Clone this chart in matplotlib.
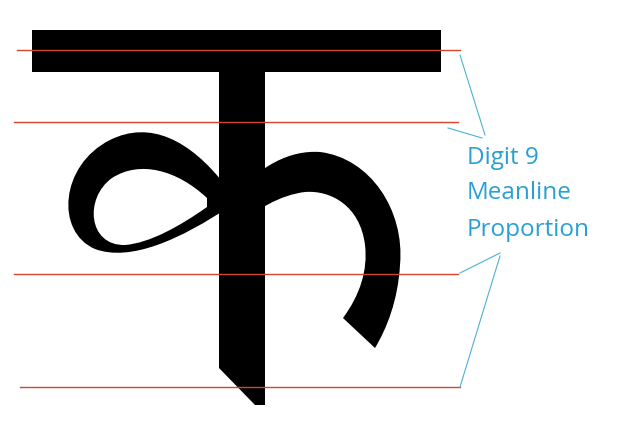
import matplotlib
matplotlib.use("Agg")
import matplotlib.pyplot as plt
from matplotlib.path import Path
from matplotlib.patches import PathPatch, Polygon

# guide lines (pixel y, x start, x end)
guide_y = [50, 122, 274, 387]
guide_x0 = [17, 14, 14, 20]
guide_x1 = [460, 458, 458, 460]
labels = ["Digit 9", "Meanline", "Proportion"]
label_y = [158, 193, 230]

M, C, L, Z = Path.MOVETO, Path.CURVE4, Path.LINETO, Path.CLOSEPOLY

fig = plt.figure(figsize=(6.27, 4.22), dpi=100)
ax = fig.add_axes([0, 0, 1, 1])
ax.set_xlim(0, 627)
ax.set_ylim(422, 0)
ax.axis("off")

# left loop: outer contour, then the hole drawn the other way round
outer = [(225, 185), (190, 140), (150, 120), (110, 140),
         (60, 165), (55, 232), (95, 249),
         (130, 262), (180, 240), (232, 205)]
hole = [(207, 198), (177, 170), (140, 160), (112, 178),
        (84, 198), (88, 246), (125, 245),
        (150, 243), (180, 226), (207, 207)]
hole = hole[::-1]
left_v = outer + [outer[0]] + hole + [hole[0]]
left_c = [M] + [C] * 9 + [Z] + [M] + [C] * 9 + [Z]
ax.add_patch(PathPatch(Path(left_v, left_c), fc="black", ec="none"))

# right arm
right_v = [(230, 200), (260, 165), (290, 150), (320, 152),
           (370, 158), (405, 210), (400, 265),
           (398, 300), (387, 328), (375, 348),
           (343, 318),
           (360, 295), (368, 270), (365, 245),
           (360, 205), (330, 190), (305, 192),
           (280, 195), (255, 210), (240, 225), (230, 200)]
right_c = [M] + [C] * 9 + [L] + [C] * 9 + [Z]
ax.add_patch(PathPatch(Path(right_v, right_c), fc="black", ec="none"))

# stem and head bar
ax.add_patch(Polygon([(219, 70), (265, 70), (265, 405), (255, 405), (219, 368)],
                     closed=True, fc="black", ec="none"))
ax.add_patch(Polygon([(32, 30), (441, 30), (441, 72), (32, 72)],
                     closed=True, fc="black", ec="none"))

for y, x0, x1 in zip(guide_y, guide_x0, guide_x1):
    ax.plot([x0, x1], [y, y], color="#d2452a", lw=1)

blue = "#4bb0d8"
ax.plot([460, 485], [55, 135], color=blue, lw=0.8)
ax.plot([448, 482], [128, 138], color=blue, lw=0.8)
ax.plot([460, 500], [273, 253], color=blue, lw=0.8)
ax.plot([460, 500], [387, 256], color=blue, lw=0.8)

for t, y in zip(labels, label_y):
    ax.text(467, y, t, color="#2a9fd3", fontsize=17.5, family="Open Sans",
            va="center", ha="left")

fig.savefig("out.png", dpi=100)
